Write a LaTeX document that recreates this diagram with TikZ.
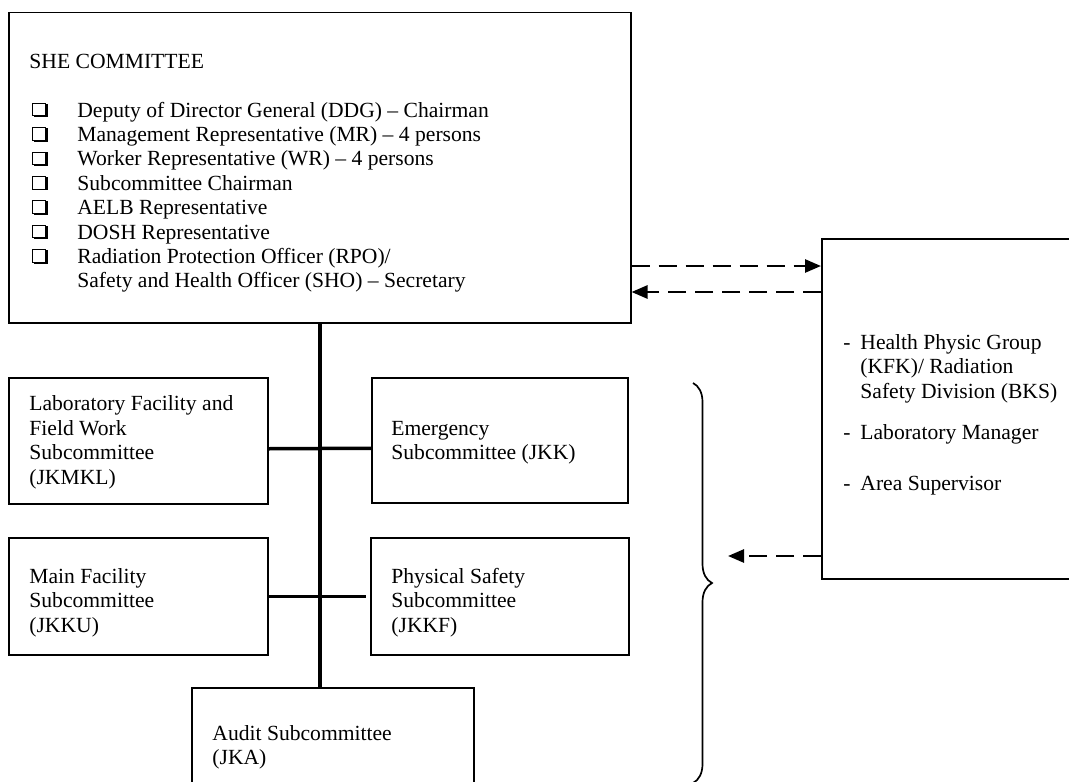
\documentclass[tikz,border=0pt]{standalone}
\usepackage{fontspec}
\setmainfont{Liberation Serif}
\usetikzlibrary{arrows.meta,decorations.pathreplacing}
\newcommand{\qbx}{\begingroup\setlength{\fboxsep}{0pt}\setlength{\fboxrule}{0.5pt}\raisebox{0.9pt}{\rlap{\kern0.9pt\raisebox{-0.9pt}{\rule{6.8pt}{6.8pt}}}\fcolorbox{black}{white}{\rule{0pt}{5.8pt}\hspace{5.8pt}}}\endgroup}
\newcommand{\dsh}{\makebox[8.5pt][l]{-}}
\tikzset{
  boxnode/.style={draw, line width=0.75pt, inner sep=0pt, anchor=north west},
  boxtext/.style={anchor=north west, inner sep=0pt, align=left, font=\fontsize{10.8}{12.2}\selectfont},
  trunkline/.style={line width=2pt},
  branchline/.style={line width=1.75pt},
  dasharrow/.style={line width=1.3pt, dash pattern=on 9pt off 4.5pt, -{Triangle[length=8pt,width=6.5pt]}},
  bracepath/.style={line width=0.85pt, decorate, decoration={brace, amplitude=9.5pt}}
}

\begin{document}
\begin{tikzpicture}[x=0.5pt,y=-0.5pt]
\useasboundingbox (0,0) rectangle (1069,781);
% boxes
\node[boxnode, minimum width=311pt, minimum height=155pt] (she) at (8,12) {};
\node[boxnode, minimum width=134.5pt, minimum height=170pt] (hpg) at (821,238) {};
\node[boxnode, minimum width=129.5pt, minimum height=63pt] (jkmkl) at (8,377) {};
\node[boxnode, minimum width=128pt, minimum height=62.5pt] (jkk) at (371,377) {};
\node[boxnode, minimum width=129.5pt, minimum height=58.5pt] (jkku) at (8,537) {};
\node[boxnode, minimum width=129pt, minimum height=58.5pt] (jkkf) at (370,537) {};
\node[boxnode, minimum width=141pt, minimum height=56.5pt] (jka) at (191,687) {};
% texts
\node[boxtext] (she-t) at (29,50.9) {\strut SHE COMMITTEE\\[12.2pt]
  \makebox[24pt][l]{\hspace*{1.5pt}\qbx}Deputy of Director General (DDG) \textendash{} Chairman\\
  \makebox[24pt][l]{\hspace*{1.5pt}\qbx}Management Representative (MR) \textendash{} 4 persons\\
  \makebox[24pt][l]{\hspace*{1.5pt}\qbx}Worker Representative (WR) \textendash{} 4 persons\\
  \makebox[24pt][l]{\hspace*{1.5pt}\qbx}Subcommittee Chairman\\
  \makebox[24pt][l]{\hspace*{1.5pt}\qbx}AELB Representative\\
  \makebox[24pt][l]{\hspace*{1.5pt}\qbx}DOSH Representative\\
  \makebox[24pt][l]{\hspace*{1.5pt}\qbx}Radiation Protection Officer (RPO)/\\
  \hspace*{24pt}Safety and Health Officer (SHO) \textendash{} Secretary};
\node[boxtext] (hpg-t) at (843,331.9) {\strut\dsh Health Physic Group\\
  \hspace*{8.5pt}(KFK)/ Radiation\\
  \hspace*{8.5pt}Safety Division (BKS)\\[8.7pt]
  \dsh Laboratory Manager\\[13.2pt]
  \dsh Area Supervisor};
\node[boxtext] (jkmkl-t) at (29,393.5) {\strut Laboratory Facility and\\Field Work\\Subcommittee\\(JKMKL)};
\node[boxtext] (jkk-t) at (391,417.9) {\strut Emergency\\Subcommittee (JKK)};
\node[boxtext] (jkku-t) at (29,565.9) {\strut Main Facility\\Subcommittee\\(JKKU)};
\node[boxtext] (jkkf-t) at (391,565.9) {\strut Physical Safety\\Subcommittee\\(JKKF)};
\node[boxtext] (jka-t) at (212,722.9) {\strut Audit Subcommittee\\(JKA)};
% connectors
\draw[trunkline] (she.south) -- (she.south |- jka.north);
\draw[branchline] ([yshift=-4pt]jkmkl.east) -- ([yshift=-4pt]jkk.west);
\draw[branchline] (jkku.east) -- ([xshift=-2pt]jkkf.west);
\coordinate (lvA) at (0,266);
\coordinate (lvB) at (0,292);
\coordinate (lvC) at (0,556);
\coordinate (bracetip) at (728,556);
\draw[dasharrow] (she.east |- lvA) -- (hpg.west |- lvA);
\draw[dasharrow] (hpg.west |- lvB) -- (she.east |- lvB);
\draw[dasharrow] (hpg.west |- lvC) -- (bracetip);
% brace
\draw[bracepath] (693,383) -- (693,783);
\end{tikzpicture}
\end{document}
